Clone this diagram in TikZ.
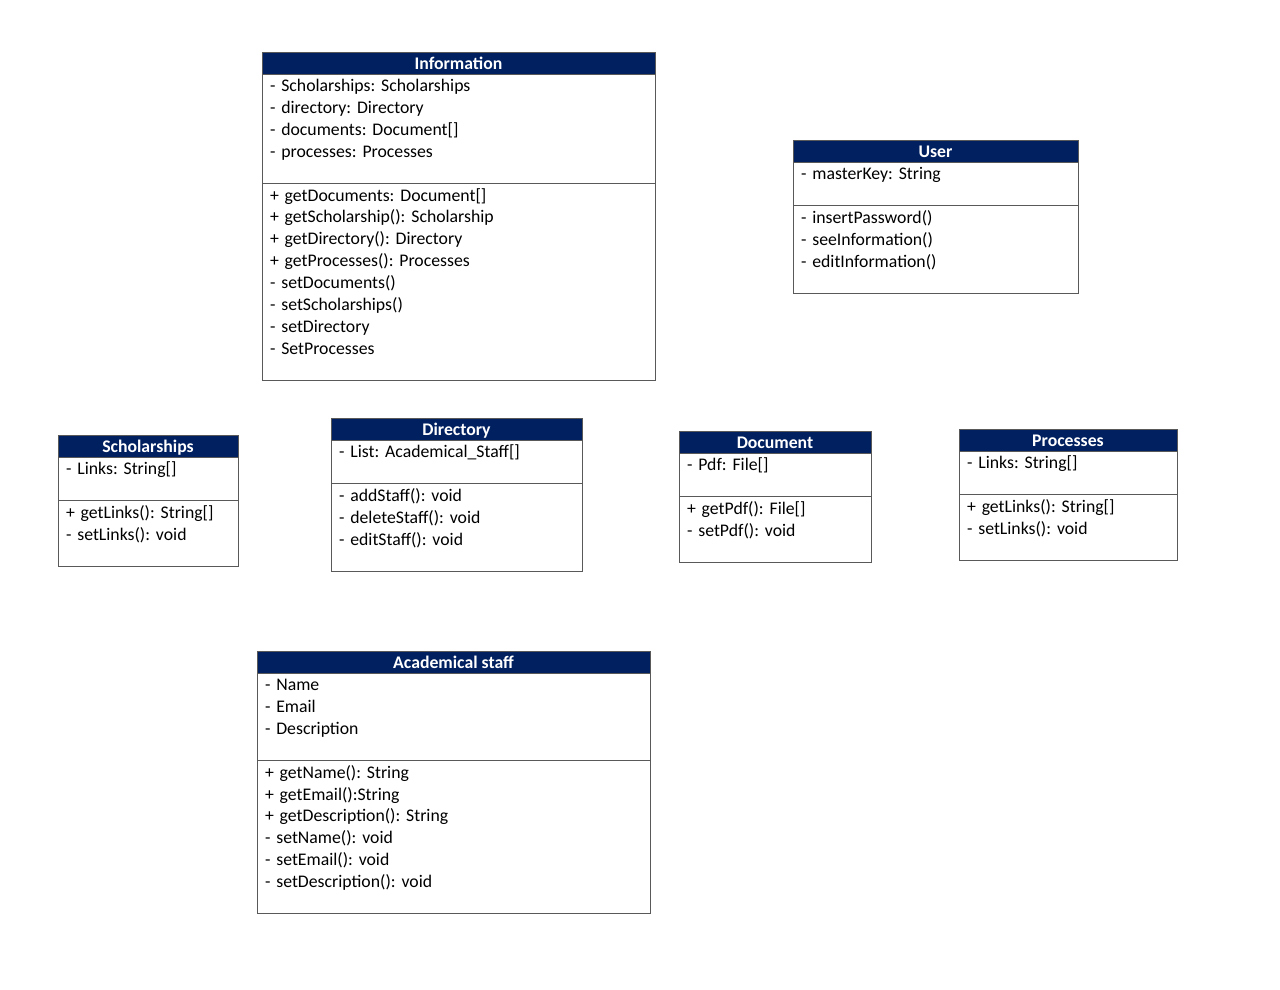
\documentclass[tikz,border=0pt]{standalone}
\usepackage{fontspec}
\setmainfont{Carlito}
\usepackage{xcolor}
\usetikzlibrary{positioning}
\definecolor{navy}{RGB}{0,32,96}
\definecolor{rand}{RGB}{89,89,89}
\frenchspacing
\newcommand{\ustrut}{\rule[-3.1pt]{0pt}{16.4pt}}
\tikzset{
  hdr/.style={draw=rand, line width=0.75pt, fill=navy, text=white, font=\fontsize{13.3}{16.4}\selectfont\bfseries, minimum width=#1, minimum height=16.5pt, text height=12pt, text depth=2.6pt, inner sep=0pt, outer sep=0pt, anchor=north west},
  sect/.style={draw=rand, line width=0.75pt, fill=white, text width=#1-12pt, align=left, inner xsep=6pt, inner ysep=0pt, outer sep=0pt, font=\fontsize{13.3}{16.4}\selectfont, execute at begin node=\ustrut, execute at end node=\\\ustrut},
}

\begin{document}
\begin{tikzpicture}[x=0.75pt, y=-0.75pt, node distance=0pt]
  \useasboundingbox (0,0) rectangle (1280,989);
  % Information
  \node[hdr=294.75pt] (info) at (262,52) {Information};
  \node[sect=294.75pt, below=of info] (infoA) {- Scholarships: Scholarships\\- directory: Directory\\- documents: Document[]\\- processes: Processes};
  \node[sect=294.75pt, below=of infoA] (infoM) {+ getDocuments: Document[]\\+ getScholarship(): Scholarship\\+ getDirectory(): Directory\\+ getProcesses(): Processes\\- setDocuments()\\- setScholarships()\\- setDirectory\\- SetProcesses};
  % User
  \node[hdr=213.75pt] (user) at (793,140) {User};
  \node[sect=213.75pt, below=of user] (userA) {- masterKey: String};
  \node[sect=213.75pt, below=of userA] (userM) {- insertPassword()\\- seeInformation()\\- editInformation()};
  % Scholarships
  \node[hdr=135pt] (schol) at (58,435) {Scholarships};
  \node[sect=135pt, below=of schol] (scholA) {- Links: String[]};
  \node[sect=135pt, below=of scholA] (scholM) {+ getLinks(): String[]\\- setLinks(): void};
  % Directory
  \node[hdr=188.25pt] (dir) at (331,418) {Directory};
  \node[sect=188.25pt, below=of dir] (dirA) {- List: Academical\_Staff[]};
  \node[sect=188.25pt, below=of dirA] (dirM) {- addStaff(): void\\- deleteStaff(): void\\- editStaff(): void};
  % Document
  \node[hdr=144pt] (doc) at (679,431) {Document};
  \node[sect=144pt, below=of doc] (docA) {- Pdf: File[]};
  \node[sect=144pt, below=of docA] (docM) {+ getPdf(): File[]\\- setPdf(): void};
  % Processes
  \node[hdr=163.5pt] (proc) at (959,429) {Processes};
  \node[sect=163.5pt, below=of proc] (procA) {- Links: String[]};
  \node[sect=163.5pt, below=of procA] (procM) {+ getLinks(): String[]\\- setLinks(): void};
  % Academical staff
  \node[hdr=294.75pt] (staff) at (257,651) {Academical staff};
  \node[sect=294.75pt, below=of staff] (staffA) {- Name\\- Email\\- Description};
  \node[sect=294.75pt, below=of staffA] (staffM) {+ getName(): String\\+ getEmail():String\\+ getDescription(): String\\- setName(): void\\- setEmail(): void\\- setDescription(): void};
\end{tikzpicture}
\end{document}
